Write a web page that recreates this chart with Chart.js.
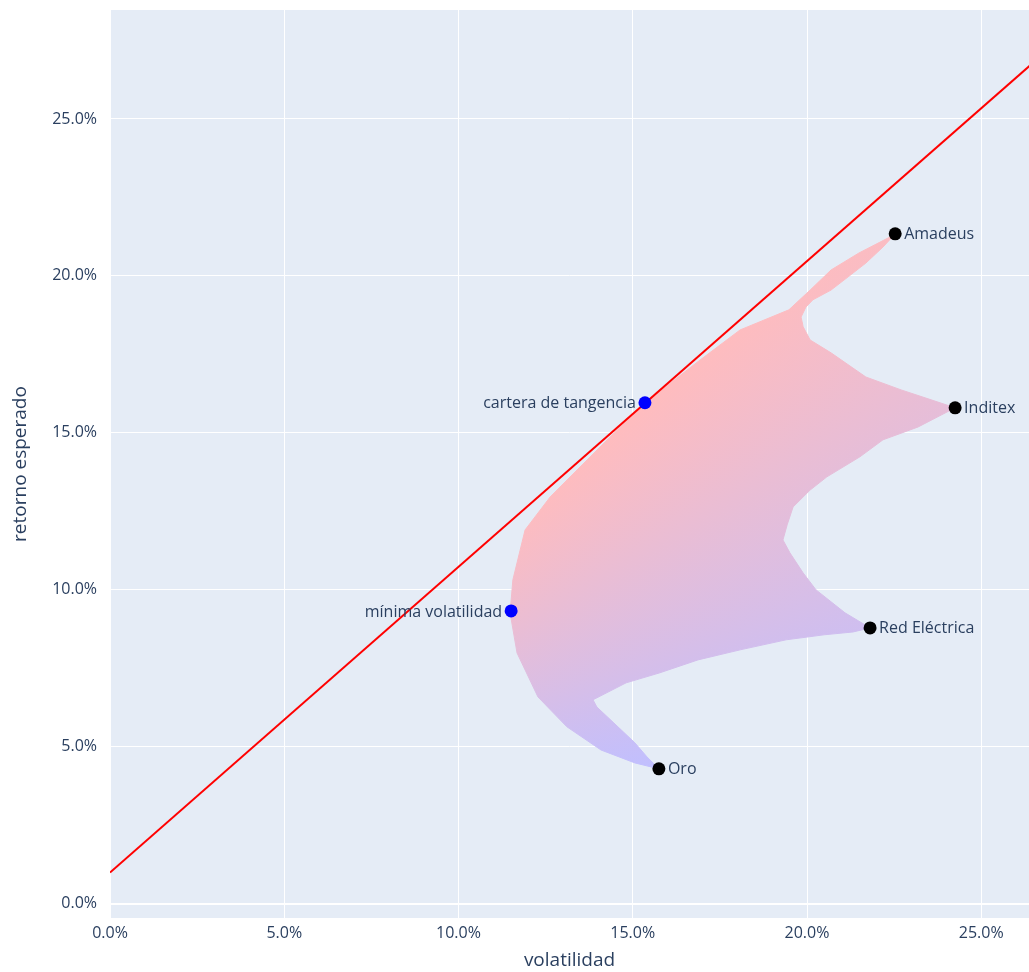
<!DOCTYPE html>
<html>
<head>
<meta charset="utf-8">
<script src="https://cdn.jsdelivr.net/npm/chart.js@4/dist/chart.umd.min.js"></script>
<style>
  html, body { margin: 0; padding: 0; background: #fff; }
  #wrap { width: 1029px; height: 972px; }
</style>
</head>
<body>
<div id="wrap"><canvas id="frontierChart" width="1029" height="972"></canvas></div>
<script>
// outline of the simulated portfolio cloud (volatility %, expected return %)
const cloudVol = [
  22.53, 22.38, 21.49, 20.69, 20.09, 19.48, 18.08, 16.93, 15.35, 14.06,
  12.63, 11.91, 11.56, 11.48, 11.68, 12.28, 13.11, 14.09, 15.06, 15.75,
  15.41, 15.06, 14.46, 13.97, 13.86, 14.81, 15.78, 16.87, 18.08, 19.40,
  20.49, 21.32, 21.81, 21.09, 20.26, 19.89, 19.51, 19.31, 19.43, 19.60,
  20.09, 20.57, 21.52, 22.18, 23.19, 24.25, 23.30, 22.70, 21.69, 20.69,
  20.09, 19.89, 19.83, 19.97, 20.17, 20.69, 21.18, 21.69, 22.18, 22.53
];
const cloudRet = [
  21.34, 21.24, 20.73, 20.19, 19.55, 18.92, 18.28, 17.32, 15.96, 14.55,
  12.96, 11.91, 10.32, 9.27, 7.99, 6.59, 5.64, 4.90, 4.49, 4.30,
  4.68, 5.13, 5.76, 6.27, 6.50, 7.04, 7.36, 7.77, 8.09, 8.41,
  8.57, 8.66, 8.79, 9.27, 10.00, 10.54, 11.18, 11.59, 12.07, 12.64,
  13.18, 13.60, 14.24, 14.78, 15.19, 15.80, 16.15, 16.37, 16.78, 17.55,
  17.96, 18.38, 18.69, 19.01, 19.24, 19.55, 19.97, 20.41, 20.92, 21.34
];

// single assets
const assetNames = ["Amadeus", "Inditex", "Red Eléctrica", "Oro"];
const assetVol = [22.53, 24.25, 21.81, 15.75];
const assetRet = [21.34, 15.80, 8.79, 4.30];

// optimal portfolios
const optNames = ["cartera de tangencia", "mínima volatilidad"];
const optVol = [15.35, 11.51];
const optRet = [15.96, 9.33];

// capital market line
const riskFree = 1.0;
const cmlVol = [0, 28];
const cmlRet = [1.0, 28.26];

const xTicks = [0, 5, 10, 15, 20, 25];
const yTicks = [0, 5, 10, 15, 20, 25];

const toPoints = (xs, ys) => xs.map((x, i) => ({ x: x, y: ys[i] }));

const textColor = "#2a3f5f";
const pink = "rgb(255,188,190)";
const lavender = "rgb(192,191,255)";

// colour the cloud by sharpe ratio (angle seen from the risk free point)
function sharpeGradient(chart) {
  const { ctx, chartArea, scales } = chart;
  if (!chartArea) return pink;
  const x0 = scales.x.getPixelForValue(0);
  const y0 = scales.y.getPixelForValue(riskFree);
  const angleFor = (s) => {
    const px = scales.x.getPixelForValue(10);
    const py = scales.y.getPixelForValue(riskFree + s * 10);
    return Math.atan2(py - y0, px - x0);
  };
  const sMax = (optRet[0] - riskFree) / optVol[0];
  const sMin = (assetRet[3] - riskFree) / assetVol[3];
  const start = angleFor(1.1);
  const off = (s) => (angleFor(s) - start) / (2 * Math.PI);
  const g = ctx.createConicGradient(start, x0, y0);
  g.addColorStop(0, pink);
  g.addColorStop(off(sMax), pink);
  g.addColorStop(off(sMin), lavender);
  g.addColorStop(0.9, lavender);
  g.addColorStop(1, pink);
  return g;
}

const plotBackground = {
  id: "plotBackground",
  beforeDraw(chart) {
    const { ctx, chartArea: a } = chart;
    ctx.save();
    ctx.fillStyle = "#e5ecf6";
    ctx.fillRect(a.left, a.top, a.right - a.left, a.bottom - a.top);
    ctx.restore();
  },
};

const pointLabels = {
  id: "pointLabels",
  afterDatasetsDraw(chart) {
    const ctx = chart.ctx;
    ctx.save();
    ctx.font = '16px "Open Sans"';
    ctx.fillStyle = textColor;
    ctx.textBaseline = "middle";
    chart.data.datasets.forEach((ds, i) => {
      if (!ds.pointNames) return;
      const meta = chart.getDatasetMeta(i);
      meta.data.forEach((pt, j) => {
        const left = ds.labelSide === "left";
        ctx.textAlign = left ? "right" : "left";
        ctx.fillText(ds.pointNames[j], pt.x + (left ? -9 : 9), pt.y + 1);
      });
    });
    ctx.restore();
  },
};

const ctx = document.getElementById("frontierChart").getContext("2d");

new Chart(ctx, {
  type: "scatter",
  data: {
    datasets: [
      {
        label: "activos",
        data: toPoints(assetVol, assetRet),
        pointNames: assetNames,
        labelSide: "right",
        backgroundColor: "#000",
        borderWidth: 0,
        pointRadius: 6.5,
        order: 0,
      },
      {
        label: "carteras",
        data: toPoints(optVol, optRet),
        pointNames: optNames,
        labelSide: "left",
        backgroundColor: "#0000ff",
        borderWidth: 0,
        pointRadius: 6.5,
        order: 0,
      },
      {
        label: "CML",
        type: "line",
        data: toPoints(cmlVol, cmlRet),
        borderColor: "#ff0000",
        borderWidth: 2,
        pointRadius: 0,
        fill: false,
        order: 1,
      },
      {
        label: "carteras simuladas",
        type: "line",
        data: toPoints(cloudVol, cloudRet),
        borderColor: (c) => sharpeGradient(c.chart),
        backgroundColor: (c) => sharpeGradient(c.chart),
        borderWidth: 1,
        pointRadius: 0,
        tension: 0,
        fill: "shape",
        order: 2,
      },
    ],
  },
  options: {
    responsive: false,
    animation: false,
    layout: {
      autoPadding: false,
      padding: { top: 10, right: 0, bottom: 0, left: 0 },
    },
    plugins: {
      legend: { display: false },
      tooltip: { enabled: false },
    },
    scales: {
      x: {
        type: "linear",
        position: "bottom",
        min: 0,
        max: 26.37,
        afterFit: (s) => {
          s.height = 54;
          s.paddingLeft = 0;
          s.paddingRight = 0;
        },
        afterBuildTicks: (s) => { s.ticks = xTicks.map((v) => ({ value: v })); },
        ticks: {
          padding: 6,
          color: textColor,
          font: { family: "Open Sans", size: 16 },
          callback: (v) => v.toFixed(1) + "%",
        },
        grid: { color: "#ffffff", lineWidth: 1, drawTicks: false },
        border: { display: false },
        title: {
          display: true,
          text: "volatilidad",
          color: textColor,
          font: { family: "Open Sans", size: 19 },
          padding: { top: 0, bottom: 0 },
        },
      },
      y: {
        type: "linear",
        min: -0.45,
        max: 28.47,
        afterFit: (s) => {
          s.width = 110;
          s.paddingTop = 0;
          s.paddingBottom = 0;
        },
        afterBuildTicks: (s) => { s.ticks = yTicks.map((v) => ({ value: v })); },
        ticks: {
          padding: 13,
          color: textColor,
          font: { family: "Open Sans", size: 16 },
          callback: (v) => v.toFixed(1) + "%",
        },
        grid: {
          color: "#ffffff",
          lineWidth: (c) => (c.tick && c.tick.value === 0 ? 2 : 1),
          drawTicks: false,
        },
        border: { display: false },
        title: {
          display: true,
          text: "retorno esperado",
          color: textColor,
          font: { family: "Open Sans", size: 19 },
          padding: { top: 9, bottom: 0 },
        },
      },
    },
  },
  plugins: [plotBackground, pointLabels],
});
</script>
</body>
</html>
